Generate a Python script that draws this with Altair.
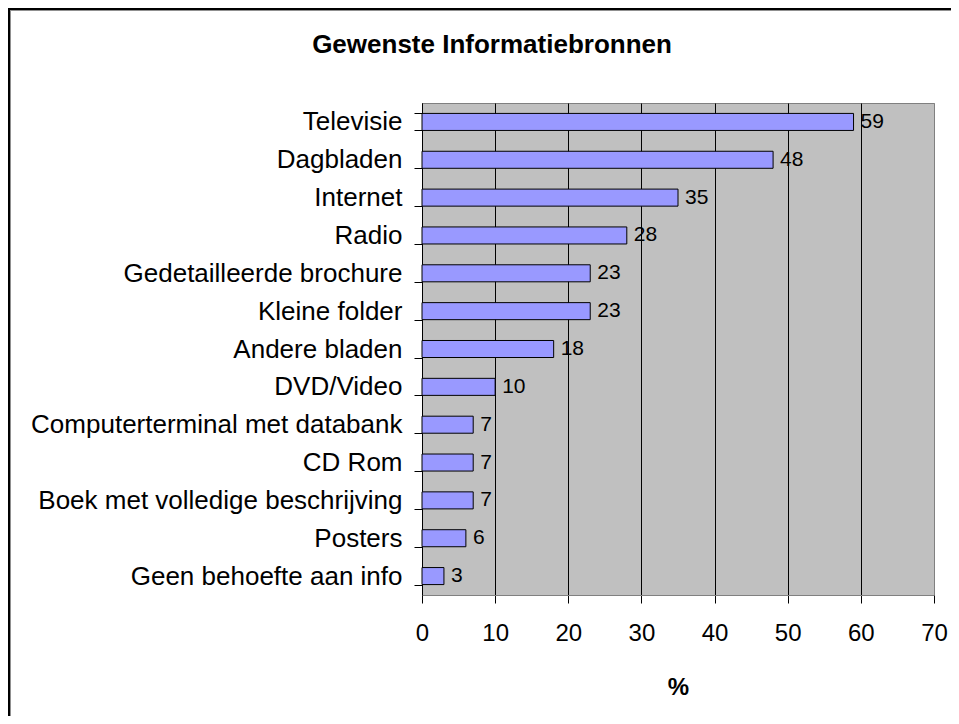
import altair as alt
import pandas as pd

categories = [
    "Televisie", "Dagbladen", "Internet", "Radio", "Gedetailleerde brochure",
    "Kleine folder", "Andere bladen", "DVD/Video", "Computerterminal met databank",
    "CD Rom", "Boek met volledige beschrijving", "Posters", "Geen behoefte aan info",
]
values = [59, 48, 35, 28, 23, 23, 18, 10, 7, 7, 7, 6, 3]
x_ticks = [0, 10, 20, 30, 40, 50, 60, 70]
title_text = "Gewenste Informatiebronnen"

df = pd.DataFrame({"bron": categories, "pct": values})
one = pd.DataFrame({"a": [0]})

FONT = "Liberation Sans"
W, H = 512, 492

y_enc = alt.Y(
    "bron:N", sort=categories,
    scale=alt.Scale(paddingInner=0.55, paddingOuter=0.275),
    axis=alt.Axis(title=None, tickBand="extent", tickSize=8, tickColor="black",
                  domainColor="black", labelFont=FONT, labelFontSize=26,
                  labelColor="black", labelPadding=12, labelLimit=600, grid=False),
)
x_enc = alt.X(
    "pct:Q", scale=alt.Scale(domain=[0, 70], nice=False),
    axis=alt.Axis(values=x_ticks, title="%", titleFont=FONT, titleFontSize=24,
                  titleFontWeight="bold", titleColor="black", titlePadding=30,
                  labelFont=FONT, labelFontSize=24, labelColor="black",
                  labelPadding=18, labelFlush=False, tickSize=8, tickColor="black",
                  domainColor="#808080", grid=True,
                  gridColor=alt.condition("datum.value >= 70", alt.value("#808080"), alt.value("black")),
                  gridWidth=1),
)

bars = alt.Chart(df).mark_bar(color="#9999FF", stroke="black", strokeWidth=1).encode(
    x=x_enc, y=y_enc
)
labels = alt.Chart(df).mark_text(
    align="left", baseline="middle", dx=7, font=FONT, fontSize=21, color="black"
).encode(x="pct:Q", y=alt.Y("bron:N", sort=categories), text="pct:Q")

title = alt.Chart(one).mark_text(
    text=title_text, font=FONT, fontSize=26, fontWeight="bold", color="black",
    align="center", baseline="alphabetic"
).encode(x=alt.value(70), y=alt.value(-50))

border_top = alt.Chart(one).mark_rule(color="black", strokeWidth=2).encode(
    x=alt.value(-414), x2=alt.value(540), y=alt.value(-94)
)
border_left = alt.Chart(one).mark_rule(color="black", strokeWidth=2).encode(
    x=alt.value(-413), y=alt.value(-95), y2=alt.value(620)
)
border_top_in = alt.Chart(one).mark_rule(color="#909090", strokeWidth=1).encode(
    x=alt.value(-412), x2=alt.value(540), y=alt.value(-92.5)
)
border_left_in = alt.Chart(one).mark_rule(color="#909090", strokeWidth=1).encode(
    x=alt.value(-411.5), y=alt.value(-92), y2=alt.value(620)
)

chart = alt.layer(
    bars, labels, title, border_top, border_left, border_top_in, border_left_in
).properties(
    width=W, height=H,
    padding={"left": 414, "top": 95, "right": 17, "bottom": 121},
    autosize="none",
).configure(background="white").configure_view(
    fill="#C0C0C0", stroke="#808080", strokeWidth=1
)

chart.save("out.html", embed_options={"renderer": "svg", "actions": False})
